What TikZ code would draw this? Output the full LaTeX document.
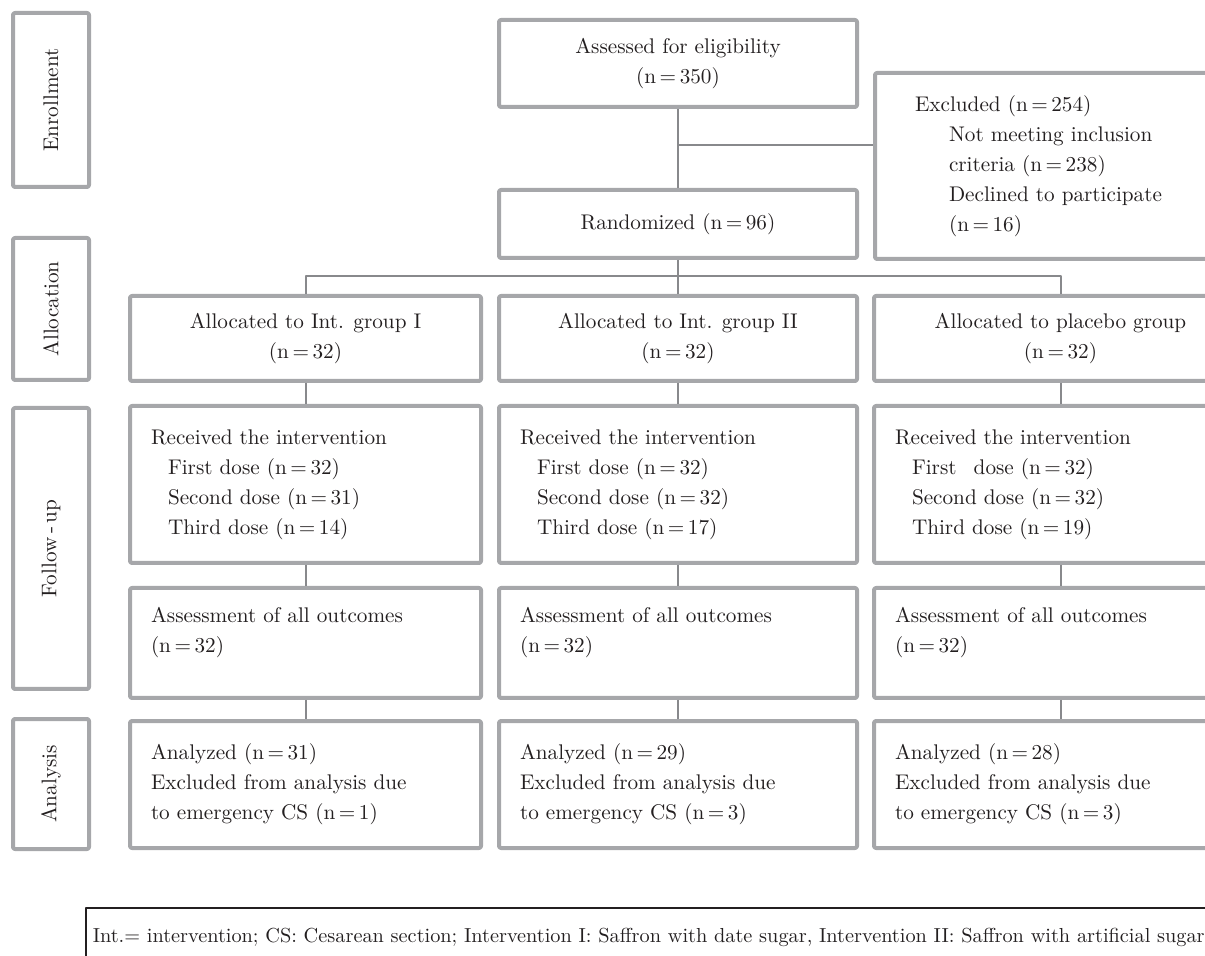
\documentclass[tikz,border=0pt]{standalone}
\definecolor{xamkhung}{HTML}{A6A7AA}
\definecolor{xamnoi}{HTML}{88898C}
\definecolor{chuden}{HTML}{231F20}
\begin{document}
\begin{tikzpicture}[x=.5pt,y=-.5pt,line join=round,text=chuden,
	font=\fontsize{10.6}{15}\selectfont,
	hop/.style={draw=xamkhung,line width=2pt,rounded corners=1pt,inner sep=0pt},
	cot/.style={hop,rotate=90,minimum height=38pt},
	trai/.style={hop,align=left,inner xsep=10.5pt,text width=#1},
	noi/.style={draw=xamnoi,line width=1pt}]
	\useasboundingbox (0,0) rectangle (1205,956);
	%Cot ben trai
	\foreach \t/\y/\h [count=\i] in {Enrollment/100/87,Allocation/309/71,{Follow\,-\,up}/548.5/140.5,Analysis/784/65}
	\node[cot,minimum width=\h pt] (giaidoan\i) at (51,\y) {\t};
	%Tuyen chon
	\node[hop,minimum width=179pt,minimum height=43.5pt,align=center] (tuyen) at (678,63.5) {Assessed for eligibility\\(n\,=\,350)};
	\node[hop,minimum width=179pt,minimum height=34pt] (ngaunhien) at (678,224) {Randomized (n\,=\,96)};
	\node[trai=148.5pt,inner xsep=20pt,minimum height=93pt,anchor=west] (loai) at (873,166) {Excluded (n\,=\,254)\\
		\hspace*{17pt}Not meeting inclusion\\\hspace*{17pt}criteria (n\,=\,238)\\
		\hspace*{17pt}Declined to participate\\\hspace*{17pt}(n\,=\,16)};
	%Ba nhom
	\foreach \i/\x/\w/\g in {1/305.5/175.5/Int. group I,2/678/179/Int. group II,3/1060.5/186.5/placebo group}
	\node[hop,minimum width=\w pt,minimum height=42.5pt,align=center] (pb\i) at (\x,338.5) {Allocated to \g\\(n\,=\,32)};
	\foreach \i/\x/\w/\k/\a/\b/\c in {1/305.5/154.5/0/32/31/14,2/678/158/0/32/32/17,3/1060.5/165.5/5/32/32/19}{
	\node[trai=\w pt,minimum height=78.5pt] (nhan\i) at (\x,484.5) {Received the intervention\\
		\hspace*{8.5pt}First\hspace{\k pt} dose (n\,=\,\a)\\\hspace*{8.5pt}Second dose (n\,=\,\b)\\\hspace*{8.5pt}Third dose (n\,=\,\c)};
	\node[trai=\w pt,minimum height=55pt] (dg\i) at (\x,643) {Assessment of all outcomes\\(n\,=\,32)\rule[-13pt]{0pt}{0pt}};}
	\foreach \i/\x/\w/\a/\b in {1/305.5/154.5/31/1,2/678/158/29/3,3/1060.5/165.5/28/3}
	\node[trai=\w pt,minimum height=63.5pt] (pt\i) at (\x,784.5) {Analyzed (n\,=\,\a)\\Excluded from analysis due\\to emergency CS (n\,=\,\b)};
	%Duong noi
	\coordinate (tach) at (678,145);
	\coordinate (re) at (678,276);
	\draw[noi] (tuyen)--(ngaunhien) (tach)--(tach-|loai.west);
	\draw[noi] (ngaunhien)--(pb2) (pb1.north)|-(re)-|(pb3.north);
	\foreach \i in {1,2,3}
	\draw[noi] (pb\i)--(nhan\i) (nhan\i)--(dg\i) (dg\i)--(pt\i);
	%Chu thich
	\node[draw=chuden,line width=.75pt,anchor=north west,minimum height=30pt,text width=620pt,inner xsep=3.5pt,align=left,font=\fontsize{10.15}{15}\selectfont] (chuthich) at (85,907) {Int.= intervention; CS: Cesarean section; Intervention I: Saffron with date sugar, Intervention II: Saffron with artificial sugar};
\end{tikzpicture}
\end{document}
